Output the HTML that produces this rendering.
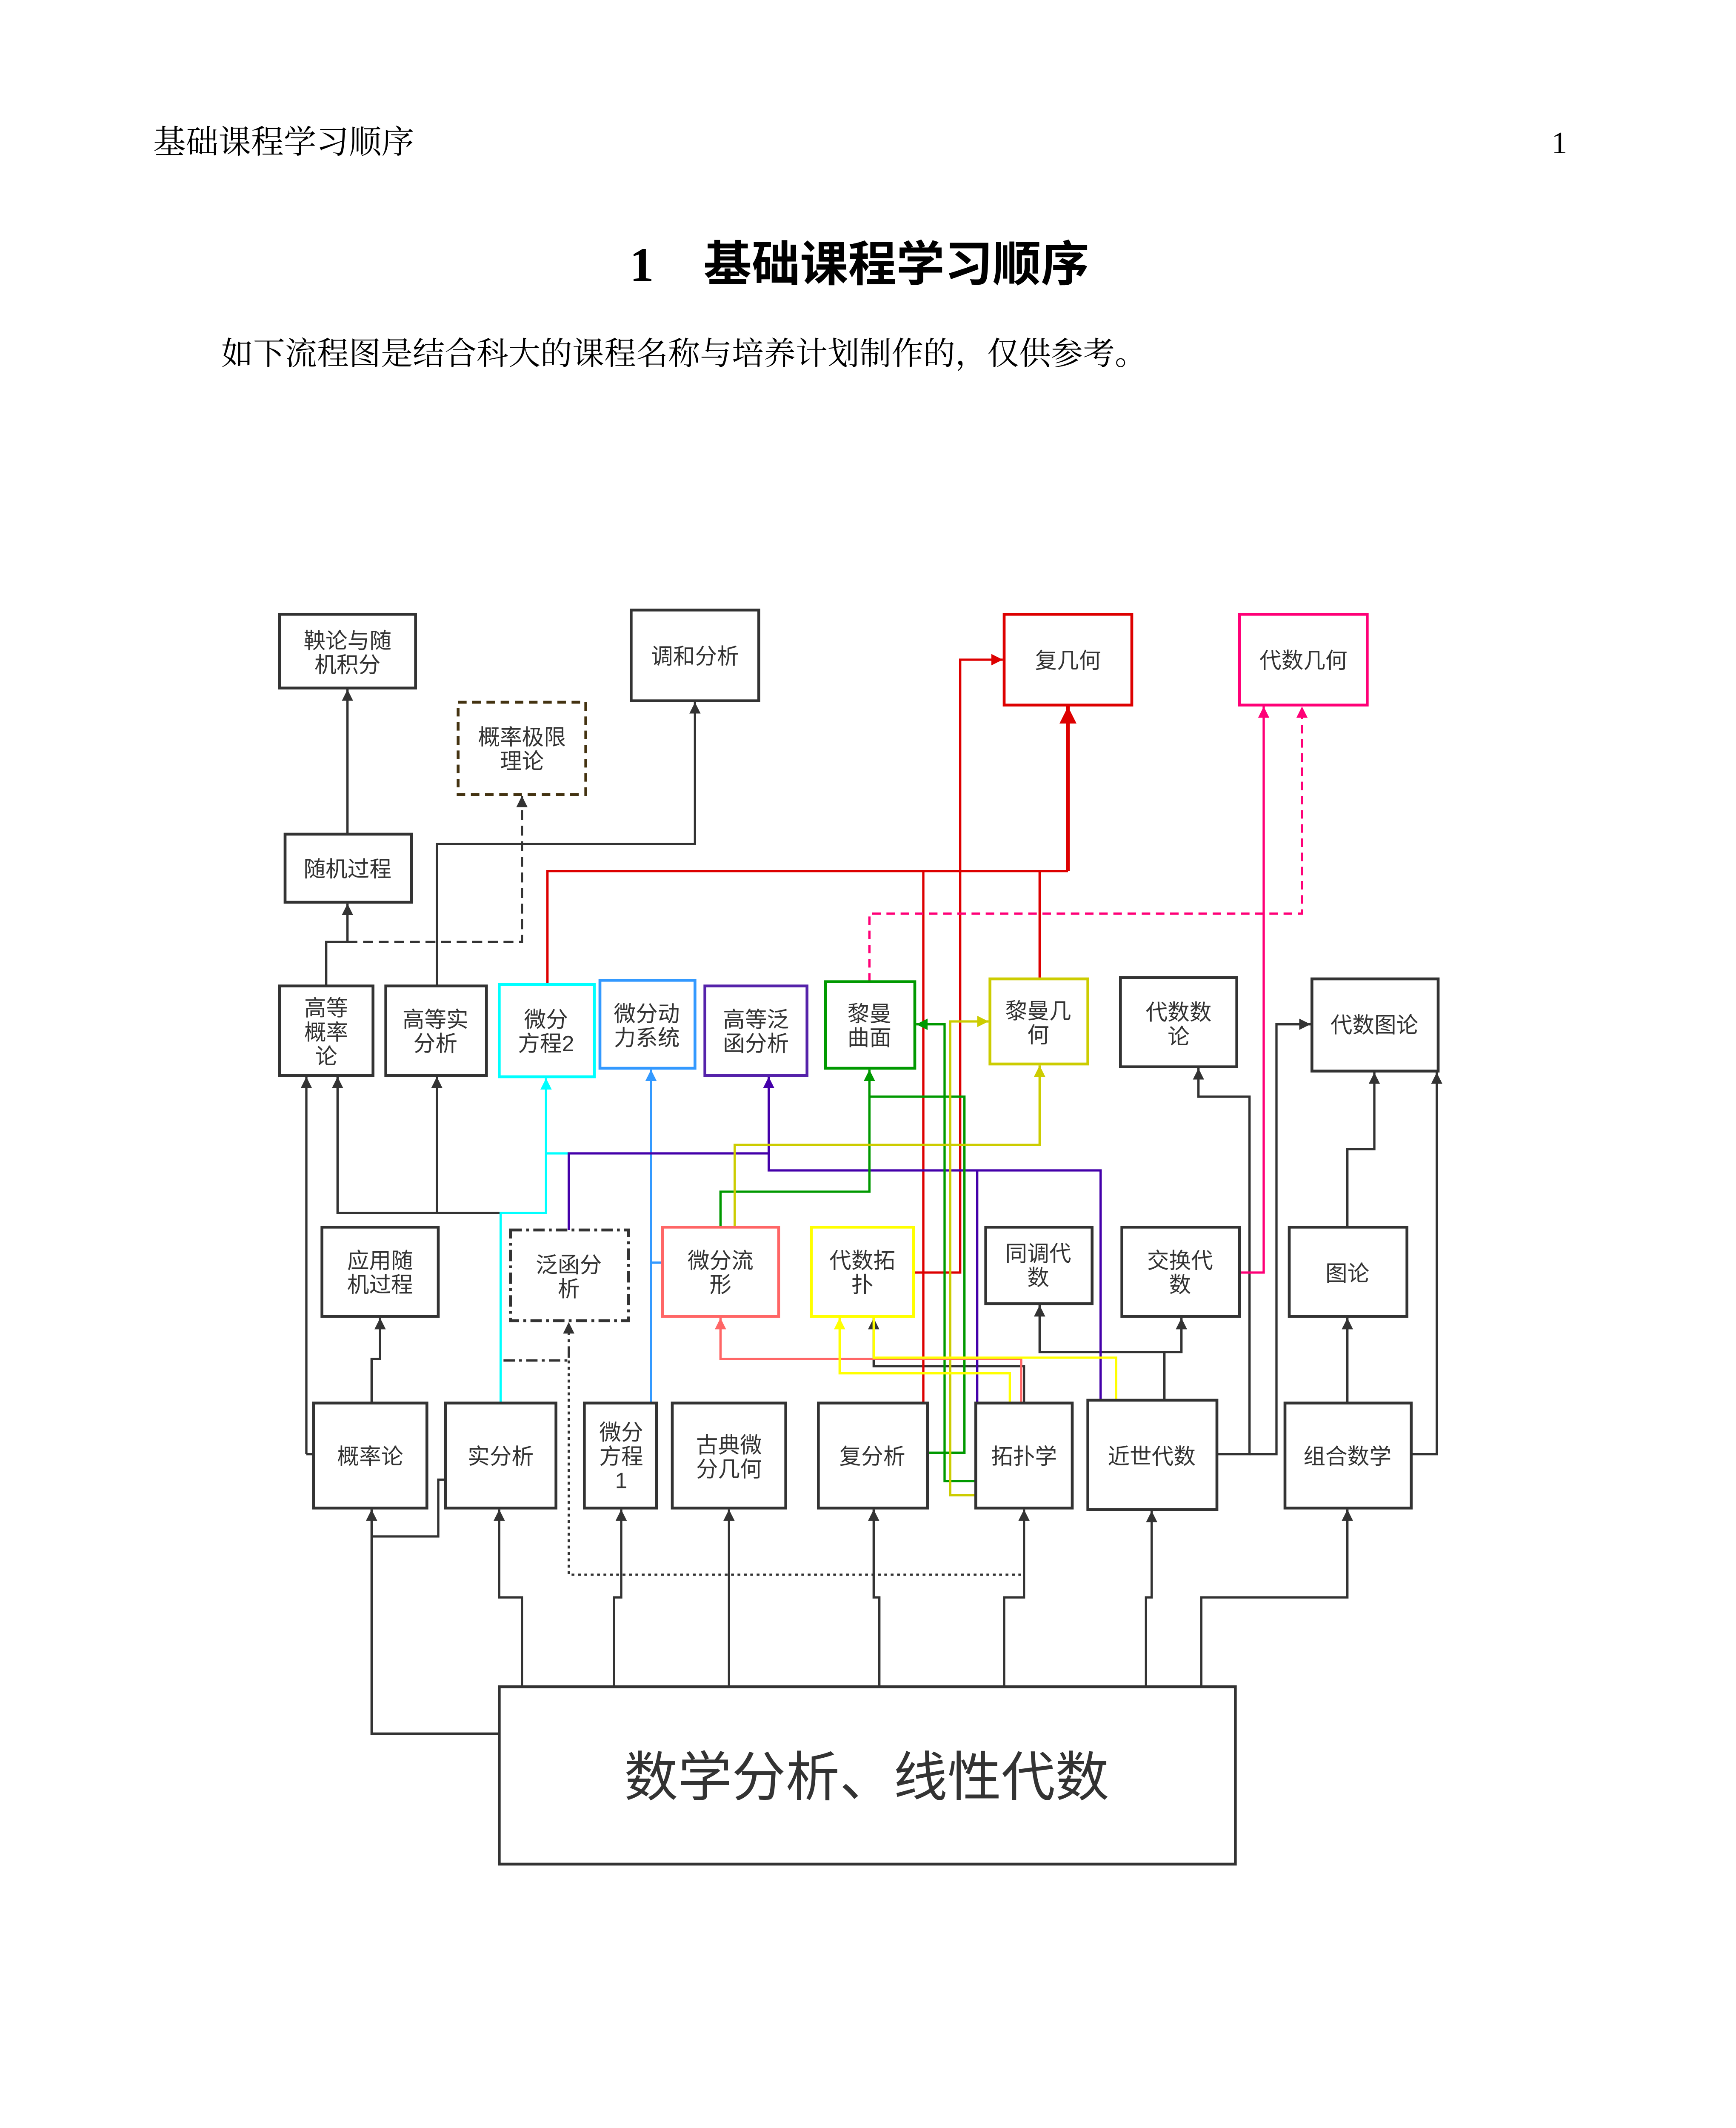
<!DOCTYPE html>
<html><head><meta charset="utf-8">
<style>
html,body{margin:0;padding:0;background:#fff;width:4080px;height:5280px;overflow:hidden;}
svg{display:block;}
.bt{font-family:"Liberation Sans","Noto Sans CJK SC",sans-serif;font-size:15.5px;fill:#333;text-anchor:middle;}
.sr{font-family:"Liberation Serif","Noto Serif CJK SC",serif;fill:#000;}
</style></head><body>
<svg width="4080" height="5280" viewBox="0 0 1224 1584" xmlns="http://www.w3.org/2000/svg">
<defs>
<marker id="k" viewBox="0 0 10 10" refX="10" refY="5" markerWidth="5" markerHeight="5" orient="auto"><path d="M0,0L10,5L0,10z" fill="#333"/></marker>
<marker id="r" viewBox="0 0 10 10" refX="10" refY="5" markerWidth="5" markerHeight="5" orient="auto"><path d="M0,0L10,5L0,10z" fill="#d00"/></marker>
<marker id="p" viewBox="0 0 10 10" refX="10" refY="5" markerWidth="5" markerHeight="5" orient="auto"><path d="M0,0L10,5L0,10z" fill="#f07"/></marker>
<marker id="c" viewBox="0 0 10 10" refX="10" refY="5" markerWidth="5" markerHeight="5" orient="auto"><path d="M0,0L10,5L0,10z" fill="#0ff"/></marker>
<marker id="b" viewBox="0 0 10 10" refX="10" refY="5" markerWidth="5" markerHeight="5" orient="auto"><path d="M0,0L10,5L0,10z" fill="#39f"/></marker>
<marker id="u" viewBox="0 0 10 10" refX="10" refY="5" markerWidth="5" markerHeight="5" orient="auto"><path d="M0,0L10,5L0,10z" fill="#40a"/></marker>
<marker id="g" viewBox="0 0 10 10" refX="10" refY="5" markerWidth="5" markerHeight="5" orient="auto"><path d="M0,0L10,5L0,10z" fill="#090"/></marker>
<marker id="y" viewBox="0 0 10 10" refX="10" refY="5" markerWidth="5" markerHeight="5" orient="auto"><path d="M0,0L10,5L0,10z" fill="#cc0"/></marker>
<marker id="yy" viewBox="0 0 10 10" refX="10" refY="5" markerWidth="5" markerHeight="5" orient="auto"><path d="M0,0L10,5L0,10z" fill="#ff0"/></marker>
<marker id="s" viewBox="0 0 10 10" refX="10" refY="5" markerWidth="5" markerHeight="5" orient="auto"><path d="M0,0L10,5L0,10z" fill="#f66"/></marker>
</defs>

<text class="sr" x="108" y="108" font-size="23">基础课程学习顺序</text>
<text class="sr" x="1094" y="108" font-size="22">1</text>
<text class="sr" x="444" y="198" font-size="34" font-weight="bold">1</text>
<text class="sr" x="496" y="198" font-size="34" font-weight="bold" style="font-family:'Noto Sans CJK SC',sans-serif">基础课程学习顺序</text>
<text class="sr" x="156" y="257" font-size="22.5">如下流程图是结合科大的课程名称与培养计划制作的，仅供参考。</text>

<g fill="none" stroke-width="1.6">
<g stroke="#333">
<path d="M245,588V486" marker-end="url(#k)"/>
<path d="M230,695V664H245V637" marker-end="url(#k)"/>
<path d="M308,695V595H490V495" marker-end="url(#k)"/>
<path d="M216,1025H221M216,1025V759" marker-end="url(#k)"/>
<path d="M353,855H238V759" marker-end="url(#k)"/>
<path d="M308,855V759" marker-end="url(#k)"/>
<path d="M262,989V958H268V929" marker-end="url(#k)"/>
<path d="M314,1043H309V1083H262"/>
<path d="M352,1222H262V1064" marker-end="url(#k)"/>
<path d="M368,1189V1126H352V1064" marker-end="url(#k)"/>
<path d="M433,1189V1126H438V1064" marker-end="url(#k)"/>
<path d="M514,1189V1064" marker-end="url(#k)"/>
<path d="M620,1189V1126H616V1064" marker-end="url(#k)"/>
<path d="M708,1189V1126H722V1064" marker-end="url(#k)"/>
<path d="M808,1189V1126H812V1065" marker-end="url(#k)"/>
<path d="M847,1189V1126H950V1064" marker-end="url(#k)"/>
<path d="M821,987V953H733V920" marker-end="url(#k)"/>
<path d="M821,953H833V929" marker-end="url(#k)"/>
<path d="M858,1025H881V773H845V753" marker-end="url(#k)"/>
<path d="M881,1025H900V722H924" marker-end="url(#k)"/>
<path d="M950,989V929" marker-end="url(#k)"/>
<path d="M950,865V810H969V756" marker-end="url(#k)"/>
<path d="M995,1025H1013V756" marker-end="url(#k)"/>
<path d="M722,989V963H616V929" marker-end="url(#k)"/>
<path d="M245,664H368V561" stroke-dasharray="7,4" marker-end="url(#k)"/>
<path d="M355,959H401V932" stroke-dasharray="8,3,2,3" marker-end="url(#k)"/>
<path d="M401,959V1110H722" stroke-dasharray="2,2.5"/>
</g>
<g stroke="#d00">
<path d="M386,694V614H753"/>
<path d="M733,690V614"/>
<path d="M651,989V614"/>
<path d="M753,614V498" stroke-width="2.4" marker-end="url(#r)"/>
<path d="M644,897H677V465H707" marker-end="url(#r)"/>
</g>
<path d="M874,897H891V498" stroke="#f07" marker-end="url(#p)"/>
<path d="M613,692V644H918V498" stroke="#f07" stroke-dasharray="6,4" marker-end="url(#p)"/>
<path d="M353,989V855H385V760" stroke="#0ff" marker-end="url(#c)"/>
<path d="M385,813H401" stroke="#0ff"/>
<path d="M459,989V890H467M459,890V754" stroke="#39f" marker-end="url(#b)"/>
<path d="M401,867V813H542V759" stroke="#40a" marker-end="url(#u)"/>
<path d="M542,813V825H776V987" stroke="#40a"/>
<path d="M689,825V989" stroke="#40a"/>
<path d="M508,865V840H613V754" stroke="#090" marker-end="url(#g)"/>
<path d="M654,1024H680V773H613" stroke="#090"/>
<path d="M688,1044H666V722H646" stroke="#090" marker-end="url(#g)"/>
<path d="M688,1054H670V720H697" stroke="#cc0" marker-end="url(#y)"/>
<path d="M518,865V807H733V751" stroke="#cc0" marker-end="url(#y)"/>
<path d="M720,989V958H508V929" stroke="#f66" marker-end="url(#s)"/>
<path d="M712,989V968H592V929" stroke="#ff0" marker-end="url(#yy)"/>
<path d="M787,989V957H616V929" stroke="#ff0"/>
</g>

<g fill="#fff" stroke-width="2">
<rect x="197" y="433" width="96" height="52" stroke="#333"/>
<rect x="445" y="430" width="90" height="64" stroke="#333"/>
<rect x="708" y="433" width="90" height="64" stroke="#d00"/>
<rect x="874" y="433" width="90" height="64" stroke="#f07"/>
<rect x="323" y="495" width="90" height="65" stroke="#431" stroke-dasharray="6,4"/>
<rect x="201" y="588" width="89" height="48" stroke="#333"/>
<rect x="197" y="695" width="66" height="63" stroke="#333"/>
<rect x="272" y="695" width="71" height="63" stroke="#333"/>
<rect x="352" y="694" width="67" height="65" stroke="#0ff"/>
<rect x="423" y="691" width="67" height="62" stroke="#39f"/>
<rect x="497" y="695" width="72" height="63" stroke="#52a"/>
<rect x="582" y="692" width="63" height="61" stroke="#090"/>
<rect x="698" y="690" width="69" height="60" stroke="#cc0"/>
<rect x="790" y="689" width="82" height="63" stroke="#333"/>
<rect x="925" y="690" width="89" height="65" stroke="#333"/>
<rect x="227" y="865" width="82" height="63" stroke="#333"/>
<rect x="360" y="867" width="83" height="64" stroke="#333" stroke-dasharray="8,3,2,3"/>
<rect x="467" y="865" width="82" height="63" stroke="#f66"/>
<rect x="572" y="865" width="72" height="63" stroke="#ff0"/>
<rect x="695" y="865" width="75" height="54" stroke="#333"/>
<rect x="791" y="865" width="83" height="63" stroke="#333"/>
<rect x="909" y="865" width="83" height="63" stroke="#333"/>
<rect x="221" y="989" width="80" height="74" stroke="#333"/>
<rect x="314" y="989" width="78" height="74" stroke="#333"/>
<rect x="412" y="989" width="51" height="74" stroke="#333"/>
<rect x="474" y="989" width="80" height="74" stroke="#333"/>
<rect x="577" y="989" width="77" height="74" stroke="#333"/>
<rect x="688" y="989" width="68" height="74" stroke="#333"/>
<rect x="767" y="987" width="91" height="77" stroke="#333"/>
<rect x="906" y="989" width="89" height="74" stroke="#333"/>
<rect x="352" y="1189" width="519" height="125" stroke="#333"/>
</g>

<g class="bt">
<text x="245" y="457">鞅论与随</text><text x="245" y="474">机积分</text>
<text x="490" y="468">调和分析</text>
<text x="753" y="471">复几何</text>
<text x="919" y="471">代数几何</text>
<text x="368" y="525">概率极限</text><text x="368" y="542">理论</text>
<text x="245" y="618">随机过程</text>
<text x="230" y="716">高等</text><text x="230" y="733">概率</text><text x="230" y="750">论</text>
<text x="307" y="724">高等实</text><text x="307" y="741">分析</text>
<text x="385" y="724">微分</text><text x="385" y="741">方程2</text>
<text x="456" y="720">微分动</text><text x="456" y="737">力系统</text>
<text x="533" y="724">高等泛</text><text x="533" y="741">函分析</text>
<text x="613" y="720">黎曼</text><text x="613" y="737">曲面</text>
<text x="732" y="718">黎曼几</text><text x="732" y="735">何</text>
<text x="831" y="719">代数数</text><text x="831" y="736">论</text>
<text x="969" y="728">代数图论</text>
<text x="268" y="894">应用随</text><text x="268" y="911">机过程</text>
<text x="401" y="897">泛函分</text><text x="401" y="914">析</text>
<text x="508" y="894">微分流</text><text x="508" y="911">形</text>
<text x="608" y="894">代数拓</text><text x="608" y="911">扑</text>
<text x="732" y="889">同调代</text><text x="732" y="906">数</text>
<text x="832" y="894">交换代</text><text x="832" y="911">数</text>
<text x="950" y="903">图论</text>
<text x="261" y="1032">概率论</text>
<text x="353" y="1032">实分析</text>
<text x="438" y="1015">微分</text><text x="438" y="1032">方程</text><text x="438" y="1049">1</text>
<text x="514" y="1024">古典微</text><text x="514" y="1041">分几何</text>
<text x="615" y="1032">复分析</text>
<text x="722" y="1032">拓扑学</text>
<text x="812" y="1032">近世代数</text>
<text x="950" y="1032">组合数学</text>
<text x="611" y="1266" style="font-size:38px">数学分析、线性代数</text>
</g>
</svg>
</body></html>
